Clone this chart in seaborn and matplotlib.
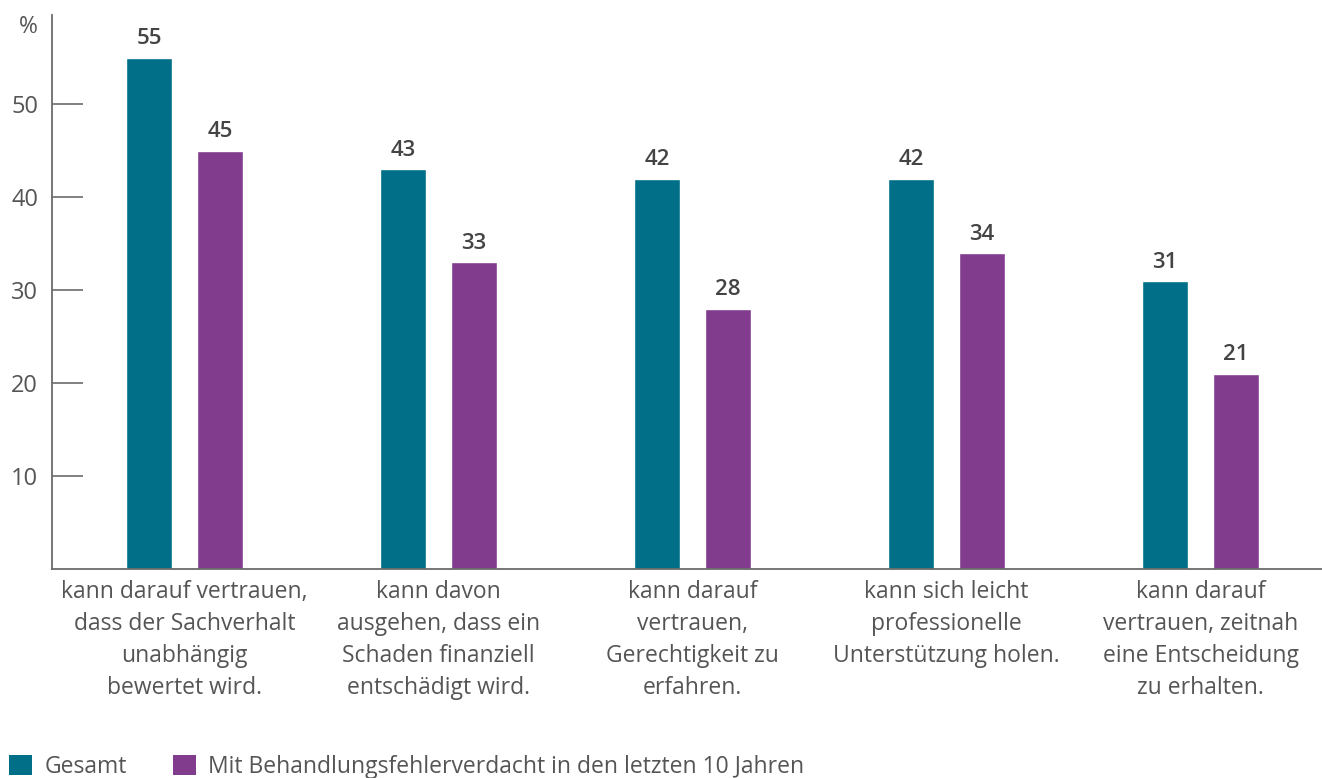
import matplotlib
matplotlib.use("Agg")
import matplotlib.pyplot as plt
import seaborn as sns
import pandas as pd
from matplotlib.patches import Patch

categories = [
    "kann darauf vertrauen,\ndass der Sachverhalt\nunabhängig\nbewertet wird.",
    "kann davon\nausgehen, dass ein\nSchaden finanziell\nentschädigt wird.",
    "kann darauf\nvertrauen,\nGerechtigkeit zu\nerfahren.",
    "kann sich leicht\nprofessionelle\nUnterstützung holen.",
    "kann darauf\nvertrauen, zeitnah\neine Entscheidung\nzu erhalten.",
]
series_names = ["Gesamt", "Mit Behandlungsfehlerverdacht in den letzten 10 Jahren"]
gesamt = [55, 43, 42, 42, 31]
verdacht = [45, 33, 28, 34, 21]
yticks = [10, 20, 30, 40, 50]

colors = ["#006F87", "#823C8E"]
text_grey = "#555555"
axis_grey = "#6b6b6b"

sns.set_theme(style="white")
plt.rcParams["font.family"] = ["Open Sans", "DejaVu Sans"]

df = pd.DataFrame({
    "Kategorie": categories * 2,
    "Serie": [series_names[0]] * len(categories) + [series_names[1]] * len(categories),
    "Wert": gesamt + verdacht,
})

fig = plt.figure(figsize=(13.22, 7.78), dpi=100)
ax = fig.add_axes([52 / 1322, 1 - 569 / 778, (1322 - 52) / 1322, (569 - 15) / 778])

sns.barplot(data=df, x="Kategorie", y="Wert", hue="Serie", palette=colors,
            width=0.56, gap=0.354, saturation=1, legend=False, ax=ax,
            errorbar=None)

ax.set_xlim(-0.522, 4.478)
ax.set_ylim(0, 59.6)

for container in ax.containers:
    ax.bar_label(container, fmt="%d", padding=6, fontsize=16,
                 fontweight="semibold", color="#444444")

ax.set_yticks(yticks)
ax.set_yticklabels([str(v) for v in yticks], fontsize=17, color=text_grey)
ax.tick_params(axis="y", direction="in", length=22, width=1.2, color=axis_grey,
               pad=10, left=True)
ax.tick_params(axis="x", length=0, pad=8)
ax.set_xticks(range(len(categories)))
ax.set_xticklabels(categories, fontsize=16.5, color=text_grey, linespacing=1.45)
ax.set_xlabel("")
ax.set_ylabel("")

for side in ["top", "right"]:
    ax.spines[side].set_visible(False)
for side in ["left", "bottom"]:
    ax.spines[side].set_color(axis_grey)
    ax.spines[side].set_linewidth(1.3)

fig.text(28 / 1322, 1 - 27 / 778, "%", fontsize=16.5, color=text_grey,
         ha="center", va="center")

handles = [Patch(facecolor=c, edgecolor="none") for c in colors]
fig.legend(handles, series_names, loc="lower left", bbox_to_anchor=(0.0, -0.013),
           ncol=2, frameon=False, fontsize=16.5, handlelength=1.0,
           handleheight=1.0, handletextpad=0.55, columnspacing=2.0,
           labelcolor=text_grey, borderaxespad=0.0)

fig.savefig("out.png", dpi=100)
